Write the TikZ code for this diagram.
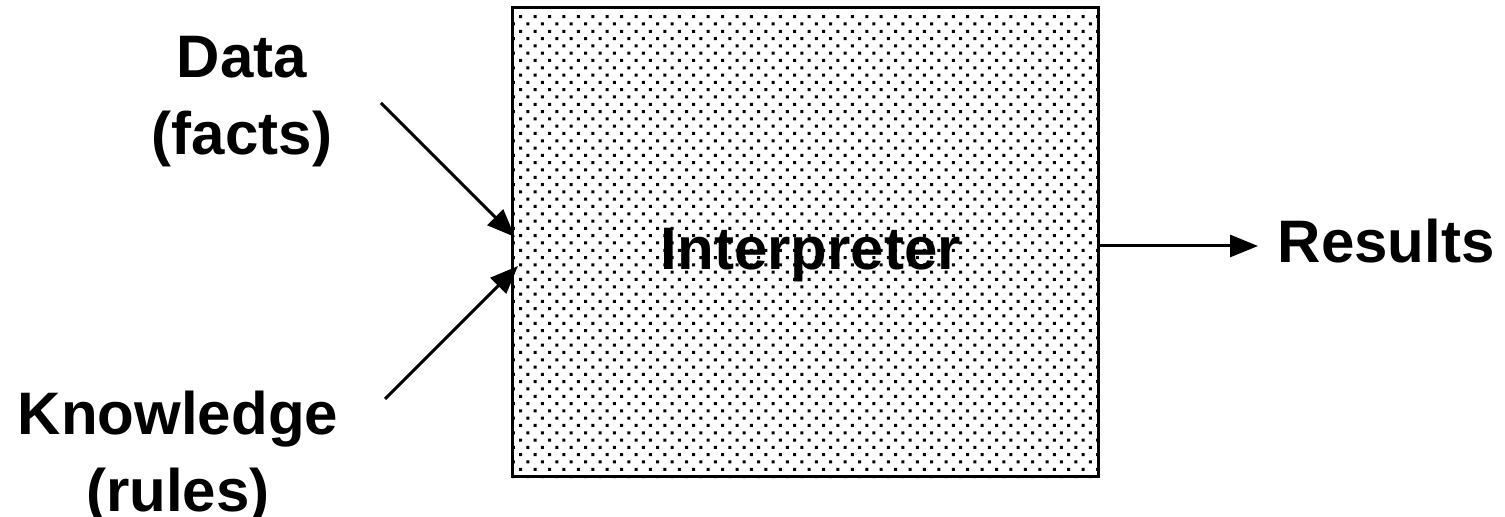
\documentclass[tikz,border=0pt]{standalone}
\usepackage{fontspec}
\setmainfont{Liberation Sans}
\usetikzlibrary{arrows.meta,backgrounds}
\begin{document}
\begin{tikzpicture}[x=0.5pt,y=-0.5pt,
  lbl/.style={font=\fontsize{30}{38.5}\selectfont\bfseries, inner sep=0pt, align=center},
  boxstyle/.style={draw=black, line width=1.5pt, minimum width=292.7pt, minimum height=234.5pt, inner sep=0pt},
  arr/.style={line width=1.5pt, -{Triangle[length=14pt,width=11pt]}, shorten >=0pt}]
\useasboundingbox (0,0) rectangle (1505,517);
\node[boxstyle] (box) at (805.3,242.5) {};
\begin{scope}[on background layer]
  \clip (box.south west) rectangle (box.north east);
  \fill[black] \foreach \i in {0,...,64} {
     \foreach \j in {-1,...,41} {
       ({520.7+14.42*\j+7.21*mod(\i,2)-1.5},{16.7+7.3*\i-1.5}) rectangle ++(3,3)
     }
  };
\end{scope}
\node[lbl, anchor=base] (interp) at (811,270) {Interpreter};
\node[lbl, anchor=base] (data) at (242,155) {Data\\(facts)};
\node[lbl, anchor=base] (know) at (178,512) {Knowledge\\(rules)};
\node[lbl, anchor=base west] (res) at (1277.5,263) {Results};
\coordinate (d0) at (381,103);
\coordinate (d1) at (515,237);
\coordinate (k0) at (385,399);
\coordinate (k1) at (518,266);
\coordinate (r1) at (1258,246);
\draw[arr] (d0) -- (d1);
\draw[arr] (k0) -- (k1);
\draw[arr] (box.east |- r1) -- (r1);
\end{tikzpicture}
\end{document}
